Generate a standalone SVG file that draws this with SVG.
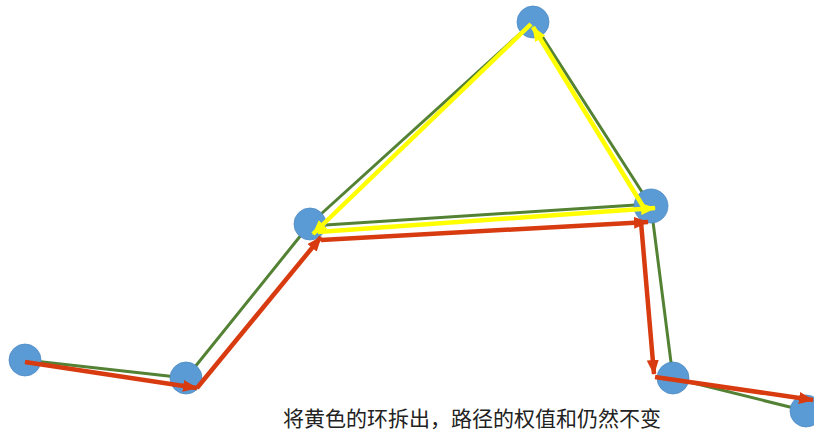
<svg xmlns="http://www.w3.org/2000/svg" width="814" height="436" viewBox="0 0 814 436">
<style>
.g{stroke:#548235;stroke-width:3;fill:none;stroke-linecap:round}
.r{stroke:#d83b0f;stroke-width:4.5;fill:none;marker-end:url(#ar)}
.y{stroke:#ffff00;stroke-width:4.5;fill:none;marker-end:url(#ay)}
.n{fill:#5b9bd5;stroke:#4f8cc4;stroke-width:0.8}
.t{font-family:"Noto Sans CJK SC","Noto Sans CJK JP",sans-serif;font-size:21px;fill:#222}
</style>
<defs>
<marker id="ar" viewBox="0 0 15 12" refX="14" refY="6" markerWidth="15" markerHeight="12" orient="auto" markerUnits="userSpaceOnUse"><path d="M0,0 L15,6 L0,12 z" fill="#d83b0f"/></marker>
<marker id="ay" viewBox="0 0 15 12" refX="14" refY="6" markerWidth="15" markerHeight="12" orient="auto" markerUnits="userSpaceOnUse"><path d="M0,0 L15,6 L0,12 z" fill="#ffff00"/></marker>
</defs>
<g id="edges">
<line class="g" x1="25" y1="360" x2="186" y2="378"/>
<line class="g" x1="186" y1="378" x2="310" y2="224"/>
<line class="g" x1="310" y1="224" x2="533" y2="22"/>
<line class="g" x1="533" y1="22" x2="651" y2="206"/>
<line class="g" x1="310" y1="226" x2="651" y2="204"/>
<line class="g" x1="651" y1="206" x2="673" y2="378"/>
<line class="g" x1="673" y1="378" x2="806" y2="411"/>
</g>
<g id="nA"><circle class="n" cx="25" cy="360" r="16"/></g>
<g id="nB"><circle class="n" cx="186" cy="378" r="16"/></g>
<g id="nC"><circle class="n" cx="310" cy="224" r="16"/></g>
<g id="nD"><circle class="n" cx="533" cy="22" r="16"/></g>
<g id="nE"><circle class="n" cx="651" cy="206" r="17"/></g>
<g id="nF"><circle class="n" cx="673" cy="378" r="16"/></g>
<g id="nG"><circle class="n" cx="806" cy="411" r="16"/></g>
<g id="arrows">
<line class="r" x1="25" y1="362" x2="197" y2="388"/>
<line class="r" x1="197" y1="388" x2="321" y2="237"/>
<line class="r" x1="321" y1="240" x2="648" y2="222"/>
<line class="r" x1="641" y1="222" x2="654" y2="374"/>
<line class="r" x1="655" y1="377" x2="813" y2="400"/>
<line class="y" x1="318" y1="232" x2="655" y2="208"/>
<line class="y" x1="644" y1="208" x2="533" y2="27"/>
<line class="y" x1="531" y1="24" x2="313" y2="234"/>
</g>
<text class="t" x="283" y="426">将黄色的环拆出，路径的权值和仍然不变</text>
</svg>
